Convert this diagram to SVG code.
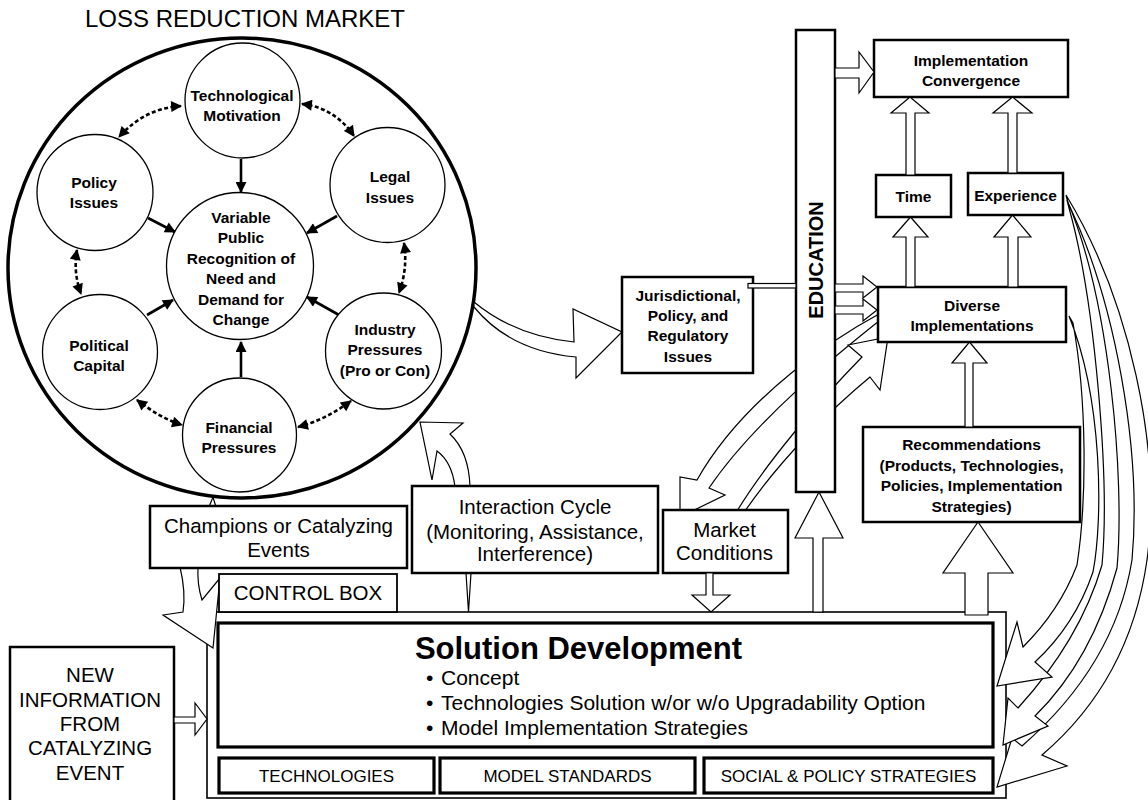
<svg xmlns="http://www.w3.org/2000/svg" width="1148" height="800" viewBox="0 0 1148 800">
<defs>
<style>
.bg{fill:#fff}
.box{fill:#fff;stroke:#000;stroke-width:2.5}
.box3{fill:#fff;stroke:#000;stroke-width:3.2}
.cir{fill:#fff;stroke:#000;stroke-width:1.3}
.blk{fill:#fff;stroke:#000;stroke-width:1.2;stroke-linejoin:miter}
.sol{fill:none;stroke:#000;stroke-width:2.6}
.dsh{fill:none;stroke:#000;stroke-width:2.6;stroke-dasharray:4 2.5}
text{font-family:"Liberation Sans",Arial,Helvetica,sans-serif;fill:#000}
.c{text-anchor:middle}
.b{font-weight:bold}
.f15{font-size:15.5px}
.f20{font-size:20.5px}
.f17{font-size:17px}
</style>
<marker id="ah" viewBox="0 0 10 10" refX="9" refY="5" markerWidth="13" markerHeight="11" markerUnits="userSpaceOnUse" orient="auto-start-reverse">
<path d="M0,0 L10,5 L0,10 z" fill="#000"/>
</marker>
</defs>
<rect class="bg" x="0" y="0" width="1148" height="800"/>

<g id="title"><text class="c" x="245" y="27" font-size="24">LOSS REDUCTION MARKET</text></g>

<g id="market-circle"><ellipse cx="242" cy="268" rx="234" ry="230" fill="#fff" stroke="#000" stroke-width="3.5"/></g>

<g id="n-control"><rect x="207" y="612" width="799" height="186" fill="#fff" stroke="#000" stroke-width="1.6"/></g>

<g id="connectors">
<line class="sol" x1="241" y1="159" x2="241" y2="192" marker-end="url(#ah)"/>
<line class="sol" x1="148" y1="218" x2="175" y2="232" marker-end="url(#ah)"/>
<line class="sol" x1="337" y1="216" x2="307" y2="233" marker-end="url(#ah)"/>
<line class="sol" x1="147" y1="315" x2="173" y2="300" marker-end="url(#ah)"/>
<line class="sol" x1="339" y1="315" x2="307" y2="297" marker-end="url(#ah)"/>
<line class="sol" x1="241" y1="377" x2="241" y2="342" marker-end="url(#ah)"/>
<path class="dsh" d="M181,106 Q145,108 119,137" marker-start="url(#ah)" marker-end="url(#ah)"/>
<path class="dsh" d="M302,104 Q335,108 354,136" marker-start="url(#ah)" marker-end="url(#ah)"/>
<path class="dsh" d="M77,250 Q73,272 81,294" marker-start="url(#ah)" marker-end="url(#ah)"/>
<path class="dsh" d="M404,243 Q408,268 399,293" marker-start="url(#ah)" marker-end="url(#ah)"/>
<path class="dsh" d="M137,400 Q160,418 182,425" marker-start="url(#ah)" marker-end="url(#ah)"/>
<path class="dsh" d="M298,427 Q325,420 351,401" marker-start="url(#ah)" marker-end="url(#ah)"/>

<path class="blk" d="M474,302 Q515,336 574,342 L573,309 L622,332 L576,378 L576,357 Q510,351 474,307 Z"/>
<path class="blk" d="M455,487 Q452,462 437,451 L432,480 L420,422 L463,423 L450,434 Q469,452 470,487 Z"/>
<polygon class="blk" points="466,573 468.5,612 471,573"/>
<polygon class="blk" points="209,507 213,497 216,507"/>
<path class="blk" d="M180,567 Q186,592 183,612 L163,615 L213,648 L220,578 L202,600 Q197,584 198,567 Z"/>
<path class="blk" d="M879,314 C840,335 745,395 697,480 L680,477 L680,517 L725,495 L709,488 C755,420 840,352 879,321 Z"/>
<path class="blk" d="M737,511 C765,465 815,405 862,357 L848,345 L888,337 L880,390 L870,377 C830,410 780,460 745,511 Z"/>
<path class="blk" d="M1066,195 C1130,300 1162,450 1147,560 Q1130,680 1042,755 L1067,766 L997,787 L1012,738 L1022,746 Q1115,665 1132,560 C1142,450 1115,300 1068,203 Z"/>
<path class="blk" d="M1067,200 C1110,300 1125,480 1117,568 Q1092,660 1035,716 L1048,726 L1003,745 L1008,698 L1018,708 Q1080,640 1102,565 C1110,480 1095,300 1069,208 Z"/>
<path class="blk" d="M1069,316 C1103,400 1103,520 1093,572 Q1075,625 1035,662 L1052,677 L997,686 L1017,622 L1023,647 Q1060,610 1077,565 C1087,500 1087,400 1073,323 Z"/>
</g>

<g id="n-tech"><circle class="cir" cx="242.5" cy="100.5" r="57.5"/><text class="c b f15" x="242" y="100.5">Technological</text><text class="c b f15" x="242" y="121">Motivation</text></g>
<g id="n-policy"><circle class="cir" cx="95" cy="192.5" r="58"/><text class="c b f15" x="94" y="187.5">Policy</text><text class="c b f15" x="94" y="208">Issues</text></g>
<g id="n-legal"><circle class="cir" cx="387.5" cy="185" r="57.5"/><text class="c b f15" x="390" y="182">Legal</text><text class="c b f15" x="390" y="202.5">Issues</text></g>
<g id="n-variable"><circle class="cir" cx="240" cy="266" r="73.5"/>
<text class="c b f15" x="241" y="222.5">Variable</text>
<text class="c b f15" x="241" y="243">Public</text>
<text class="c b f15" x="241" y="263.5">Recognition of</text>
<text class="c b f15" x="241" y="284">Need and</text>
<text class="c b f15" x="241" y="304.5">Demand for</text>
<text class="c b f15" x="241" y="325">Change</text></g>
<g id="n-political"><circle class="cir" cx="100" cy="352" r="57.5"/><text class="c b f15" x="99" y="350.5">Political</text><text class="c b f15" x="99" y="371">Capital</text></g>
<g id="n-industry"><circle class="cir" cx="383.5" cy="351" r="58"/><text class="c b f15" x="385" y="334.5">Industry</text><text class="c b f15" x="385" y="355">Pressures</text><text class="c b f15" x="385" y="375.5">(Pro or Con)</text></g>
<g id="n-financial"><circle class="cir" cx="239.5" cy="435" r="57"/><text class="c b f15" x="239" y="432.5">Financial</text><text class="c b f15" x="239" y="453">Pressures</text></g>

<g id="n-control-tab"><rect x="219" y="574" width="178" height="38" fill="#fff" stroke="#000" stroke-width="1.8"/><text class="c f20" x="308" y="600">CONTROL BOX</text></g>
<g id="n-solution"><rect class="box3" x="218" y="623" width="775" height="124"/>
<text class="c b" x="578.5" y="659" font-size="31px">Solution Development</text>
<text x="426" y="685" font-size="21px">•</text><text x="441" y="685" font-size="21px">Concept</text>
<text x="426" y="710" font-size="21px">•</text><text x="441" y="710" font-size="21px">Technologies Solution w/or w/o Upgradability Option</text>
<text x="426" y="735" font-size="21px">•</text><text x="441" y="735" font-size="21px">Model Implementation Strategies</text></g>
<g id="n-technologies"><rect class="box3" x="219" y="758" width="215" height="35"/><text class="c f17" x="326.5" y="782">TECHNOLOGIES</text></g>
<g id="n-standards"><rect class="box3" x="440" y="758" width="255" height="35"/><text class="c f17" x="567.5" y="782">MODEL STANDARDS</text></g>
<g id="n-social"><rect class="box3" x="704" y="758" width="289" height="35"/><text class="c f17" x="848.5" y="782">SOCIAL &amp; POLICY STRATEGIES</text></g>

<g id="n-newinfo"><rect class="box" x="10" y="647" width="164" height="160" stroke-width="1.8"/>
<text class="c f20" x="90" y="682">NEW</text>
<text class="c f20" x="90" y="707">INFORMATION</text>
<text class="c f20" x="90" y="731">FROM</text>
<text class="c f20" x="90" y="755">CATALYZING</text>
<text class="c f20" x="90" y="780">EVENT</text></g>

<g id="n-champions"><rect class="box" x="150" y="506" width="257" height="62"/><text class="c f20" x="278.5" y="533">Champions or Catalyzing</text><text class="c f20" x="278.5" y="557">Events</text></g>
<g id="n-interaction"><rect class="box" x="412" y="486" width="246" height="87"/><text class="c f20" x="535" y="514">Interaction Cycle</text><text class="c f20" x="535" y="539">(Monitoring, Assistance,</text><text class="c f20" x="535" y="561">Interference)</text></g>
<g id="n-market"><rect class="box" x="663" y="510" width="125" height="63"/><text class="c f20" x="724.5" y="537">Market</text><text class="c f20" x="724.5" y="560">Conditions</text></g>
<g id="n-jurisdictional"><rect class="box" x="622" y="277" width="131" height="96"/>
<text class="c b f15" x="688" y="300.5">Jurisdictional,</text>
<text class="c b f15" x="688" y="320.5">Policy, and</text>
<text class="c b f15" x="688" y="340.5">Regulatory</text>
<text class="c b f15" x="688" y="361.5">Issues</text></g>
<g id="n-education"><rect class="box" x="796" y="30" width="39" height="462"/><text class="c b" font-size="20px" transform="translate(823,260) rotate(-90)">EDUCATION</text></g>
<g id="n-convergence"><rect class="box" x="874" y="40" width="194" height="57"/><text class="c b f15" x="971" y="65.5">Implementation</text><text class="c b f15" x="971" y="85.5">Convergence</text></g>
<g id="n-time"><rect class="box" x="876" y="175" width="75" height="42"/><text class="c b f15" x="913.5" y="202">Time</text></g>
<g id="n-experience"><rect class="box" x="968" y="173" width="95" height="42"/><text class="c b f15" x="1015.5" y="201">Experience</text></g>
<g id="n-diverse"><rect class="box" x="878" y="287" width="188" height="55"/><text class="c b f15" x="972" y="310.5">Diverse</text><text class="c b f15" x="972" y="331">Implementations</text></g>
<g id="n-recommendations"><rect class="box" x="863" y="427" width="217" height="95"/>
<text class="c b f15" x="971.5" y="450">Recommendations</text>
<text class="c b f15" x="971.5" y="470.5">(Products, Technologies,</text>
<text class="c b f15" x="971.5" y="491">Policies, Implementation</text>
<text class="c b f15" x="971.5" y="512">Strategies)</text></g>

<g id="block-arrows">
<polygon class="blk" points="906,175 906,113 891,113 910,97 929,113 915,113 915,175"/>
<polygon class="blk" points="1008,173 1008,113 993,113 1012.5,97 1032,113 1017,113 1017,173"/>
<polygon class="blk" points="906,287 906,237 893,237 910.5,217 928,237 915,237 915,287"/>
<polygon class="blk" points="1008,287 1008,237 994,237 1012.5,215 1031,237 1018,237 1018,287"/>
<polygon class="blk" points="965,427 965,363 952,363 969.5,342 987,363 973,363 973,427"/>
<polygon class="blk" points="965,615 965,573 943,573 978,522 1013,573 988,573 988,615"/>
<polygon class="blk" points="813,612 813,538 795,538 819,492 843,538 823,538 823,612"/>
<polygon class="blk" points="835,68 859,68 859,52 874,72 859,93 859,78 835,78"/>
<polygon class="blk" points="835,284 863,284 863,276 877,287 863,298 863,292 835,292"/>
<polygon class="blk" points="835,306 863,306 863,299 877,310 863,321 863,314 835,314"/>
<polygon class="blk" points="174,717 195,717 195,703 207,719 195,735 195,723 174,723"/>
<polygon class="blk" points="706,573 706,595 692,595 711,612 730,595 713,595 713,573"/>
<rect class="blk" x="748" y="283.5" width="48" height="4.5"/>
</g>
</svg>
